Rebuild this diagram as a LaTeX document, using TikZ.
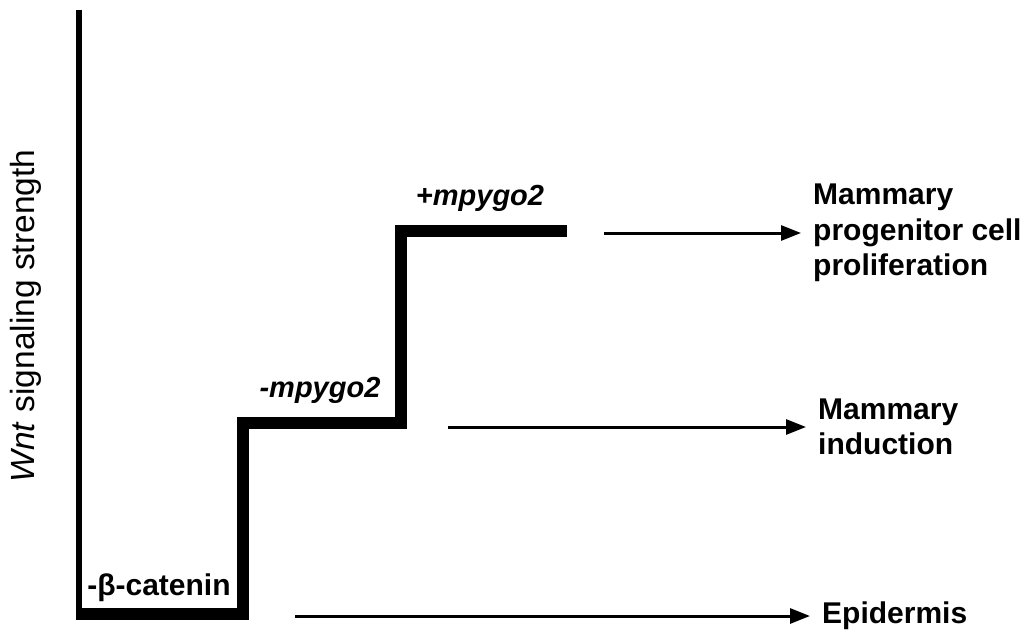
\documentclass[tikz,border=0pt]{standalone}
\usepackage{fontspec}
\setmainfont{Liberation Sans}
\usetikzlibrary{arrows.meta}
\tikzset{
  stair/.style={line width=12pt, line join=miter, line cap=butt},
  axisline/.style={line width=6.5pt},
  arr/.style={line width=3pt, -{Triangle[length=20pt,width=15pt]}},
  steplabel/.style={font=\fontsize{29}{35}\selectfont\bfseries\itshape, inner sep=0pt, anchor=base},
  outcome/.style={font=\fontsize{30}{35.5}\selectfont\bfseries, align=left, anchor=west, inner xsep=12pt, inner ysep=0pt},
  ylab/.style={font=\fontsize{33.5}{38}\selectfont, rotate=90, inner sep=0pt}
}
\begin{document}
\begin{tikzpicture}[x=1pt,y=-1pt]
\useasboundingbox (0,0) rectangle (1031,637);
% axis
\coordinate (axtop) at (79,10);
\coordinate (axbot) at (79,620);
\draw[axisline] (axtop) -- (axbot);
% staircase
\coordinate (s0) at (76,614);
\coordinate (s1) at (243,614);
\coordinate (s2) at (243,423);
\coordinate (s3) at (401,423);
\coordinate (s4) at (401,231);
\coordinate (s5) at (567,231);
\draw[stair] (s0) -- (s1) -- (s2) -- (s3) -- (s4) -- (s5);
% step labels
\node[steplabel, font=\fontsize{30}{35}\selectfont\bfseries] (cat) at (159,595) {-β-catenin};
\node[steplabel] (mneg) at (320,397) {-mpygo2};
\node[steplabel] (mpos) at (480,205) {+mpygo2};
% y label
\node[ylab] (yl) at (26,316) {\textit{Wnt} signaling strength};
% outcomes
\node[outcome] (prolif) at (801,233) {Mammary\\progenitor cell\\proliferation};
\node[outcome] (induct) at (806,427) {Mammary\\induction};
\node[outcome] (epid) at (810,616) {Epidermis};
% arrow starts
\coordinate (a1) at (604,233);
\coordinate (a2) at (448,427);
\coordinate (a3) at (295,616);
\draw[arr] (a1) -- (prolif.west);
\draw[arr] (a2) -- (induct.west);
\draw[arr] (a3) -- (epid.west);
\end{tikzpicture}
\end{document}
